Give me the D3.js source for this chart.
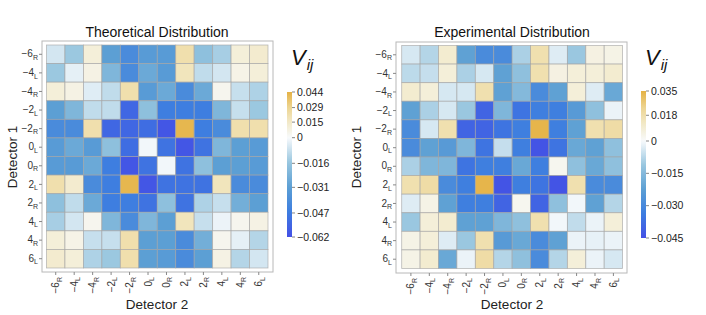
<!DOCTYPE html>
<html><head><meta charset="utf-8">
<script src="https://cdn.jsdelivr.net/npm/d3@7"></script>
<style>body{margin:0;background:#fff}svg{display:block}text{font-family:"Liberation Sans",Arial,sans-serif}</style>
</head><body><svg id="c" width="706" height="315"></svg>
<script>
// ---------- data ----------
const labels = ["−6R","−4L","−4R","−2L","−2R","0L","0R","2L","2R","4L","4R","6L"];

const theoretical = [
 [-0.006,-0.015, 0.010,-0.031,-0.040,-0.033,-0.033, 0.022,-0.018,-0.013, 0.010, 0.013],
 [-0.015,-0.003, 0.007,-0.022,-0.040,-0.027,-0.033, 0.018,-0.009,-0.006, 0.006, 0.010],
 [ 0.010, 0.007,-0.004,-0.009, 0.022,-0.033,-0.027,-0.040,-0.027, 0.004,-0.008,-0.012],
 [-0.031,-0.022,-0.009,-0.009,-0.054,-0.018,-0.046,-0.046,-0.046,-0.022,-0.008,-0.015],
 [-0.040,-0.040, 0.022,-0.054,-0.054,-0.052,-0.060, 0.042,-0.046,-0.040, 0.022, 0.022],
 [-0.033,-0.027,-0.033,-0.018,-0.052,-0.001,-0.050,-0.060,-0.050,-0.022,-0.031,-0.033],
 [-0.033,-0.033,-0.027,-0.046,-0.060,-0.050,-0.001,-0.050,-0.018,-0.031,-0.031,-0.033],
 [ 0.022, 0.013,-0.040,-0.046, 0.042,-0.060,-0.050,-0.050,-0.050, 0.018,-0.040,-0.040],
 [-0.018,-0.009,-0.027,-0.046,-0.046,-0.050,-0.018,-0.050,-0.012,-0.008,-0.025,-0.031],
 [-0.013,-0.006, 0.004,-0.022,-0.040,-0.022,-0.031, 0.018,-0.008,-0.002, 0.004, 0.007],
 [ 0.010, 0.006,-0.008,-0.008, 0.022,-0.031,-0.031,-0.040,-0.025, 0.004,-0.003,-0.011],
 [ 0.013, 0.010,-0.012,-0.015, 0.022,-0.031,-0.033,-0.040,-0.031, 0.007,-0.011,-0.006]
];

const experimental = [
 [-0.004,-0.008, 0.010,-0.022,-0.029,-0.029,-0.009, 0.017,-0.003,-0.011, 0.006, 0.005],
 [-0.007,-0.006, 0.008,-0.009,-0.004,-0.022,-0.013, 0.017, 0.006, 0.008, 0.008, 0.010],
 [ 0.010, 0.008,-0.004,-0.004, 0.017,-0.022,-0.015,-0.029,-0.022, 0.008,-0.003,-0.020],
 [-0.022,-0.009,-0.004,-0.011,-0.040,-0.016,-0.036,-0.033,-0.033,-0.024,-0.013,-0.0015],
 [-0.029,-0.004, 0.017,-0.040,-0.040,-0.036,-0.033, 0.034,-0.033,-0.022, 0.017, 0.019],
 [-0.029,-0.022,-0.024,-0.016,-0.036,-0.006,-0.033,-0.044,-0.036,-0.020,-0.022,-0.013],
 [-0.009,-0.016,-0.016,-0.036,-0.033,-0.033,-0.020,-0.033, 0.003,-0.013,-0.020,-0.013],
 [ 0.017, 0.019,-0.029,-0.033, 0.034,-0.044,-0.033,-0.036,-0.044, 0.017,-0.029,-0.029],
 [-0.003, 0.005,-0.022,-0.033,-0.033,-0.040, 0.003,-0.040,-0.013,-0.0007,-0.022,-0.008],
 [-0.011, 0.008, 0.010,-0.022,-0.022,-0.016,-0.013, 0.017,-0.0007,-0.0065,-0.0015, 0.008],
 [ 0.005, 0.008,-0.003,-0.011, 0.017,-0.024,-0.020,-0.029,-0.022,-0.0015,-0.002,-0.0015],
 [ 0.005, 0.010,-0.020,-0.0015, 0.019,-0.008,-0.013,-0.029,-0.008, 0.008,-0.0015,-0.004]
];

const theoTicks = [0.044, 0.029, 0.015, 0, -0.016, -0.031, -0.047, -0.062];
const theoTickLabels = ["0.044","0.029","0.015","0","−0.016","−0.031","−0.047","−0.062"];
const exptTicks = [0.035, 0.018, 0, -0.015, -0.030, -0.045];
const exptTickLabels = ["0.035","0.018","0","−0.015","−0.030","−0.045"];

const titles = ["Theoretical Distribution", "Experimental Distribution"];
const xTitle = "Detector 2", yTitle = "Detector 1";

// ---------- drawing ----------
const svg = d3.select("#c");
svg.append("rect").attr("width",706).attr("height",315).attr("fill","#fff");

const palette = d3.scaleLinear()
  .domain([-1,-0.75,-0.5,-0.25,0,0.34,0.66,1])
  .range(["#4450e6","#3d7de0","#5c9fd4","#98c6df","#f8fafc","#f2e9c8","#edd592","#e5b245"])
  .interpolate(d3.interpolateRgb).clamp(true);

function colorFn(v, mn, mx){ return palette(v < 0 ? v / mn : v / mx); }

function subLabel(sel){
  sel.each(function(d){
    const t = d3.select(this); t.text(null);
    t.append("tspan").text(d.slice(0,-1));
    t.append("tspan").attr("font-size","7px").attr("dy","2.5").text(d.slice(-1));
  });
}

const panels = [
  {data: theoretical, ticks: theoTicks, tickLabels: theoTickLabels, mn: 0.062, mx: 0.044,
   frame:[42,41,273,272], cells:[46.5,45,268,268], bar:{x:287, top:92, zero:137.7, bottom:237},
   vx: 291, title: titles[0], cx: 157, ylabX: 13},
  {data: experimental, ticks: exptTicks, tickLabels: exptTickLabels, mn: 0.045, mx: 0.035,
   frame:[396,42,627,273], cells:[401.7,45.5,622.6,268.5], bar:{x:641, top:91, zero:141, bottom:238},
   vx: 645, title: titles[1], cx: 512, ylabX: 357}
];

panels.forEach((p, pi) => {
  const g = svg.append("g");
  const x = d3.scaleBand().domain(labels).range([p.cells[0], p.cells[2]]);
  const y = d3.scaleBand().domain(labels).range([p.cells[1], p.cells[3]]);
  const cells = [];
  p.data.forEach((row, i) => row.forEach((v, j) => cells.push({r: labels[i], c: labels[j], v})));
  g.selectAll("rect.cell").data(cells).join("rect").attr("class","cell")
    .attr("x", d => x(d.c)).attr("y", d => y(d.r))
    .attr("width", x.bandwidth()).attr("height", y.bandwidth())
    .attr("fill", d => colorFn(d.v, p.mn, p.mx))
    .attr("stroke", "#a3a3a3").attr("stroke-width", 0.8).attr("stroke-opacity", 0.75);

  // frame
  g.append("rect").attr("x", p.frame[0]).attr("y", p.frame[1])
    .attr("width", p.frame[2]-p.frame[0]).attr("height", p.frame[3]-p.frame[1])
    .attr("fill","none").attr("stroke","#b8b8b8").attr("stroke-width",1);

  // axes
  const ya = g.append("g").attr("transform", `translate(${p.frame[0]},0)`)
    .call(d3.axisLeft(y).tickSize(3).tickSizeOuter(0));
  const xa = g.append("g").attr("transform", `translate(0,${p.frame[3]})`)
    .call(d3.axisBottom(x).tickSize(3).tickSizeOuter(0));
  [ya, xa].forEach(a => { a.select(".domain").remove(); a.selectAll("line").attr("stroke","#888"); });
  ya.selectAll("text").attr("font-size","10px").attr("fill","#333").attr("x",-4).call(subLabel);
  xa.selectAll("text").attr("font-size","10px").attr("fill","#333")
    .attr("transform","rotate(-90)").attr("text-anchor","end")
    .attr("x",-5).attr("y",0).attr("dy","0.35em").call(subLabel);

  // titles
  g.append("text").attr("x", p.cx).attr("y", 37).attr("text-anchor","middle")
    .attr("font-size","14px").attr("fill","#111").text(p.title);
  g.append("text").attr("x", p.cx).attr("y", 309).attr("text-anchor","middle")
    .attr("font-size","13.5px").attr("fill","#222").text(xTitle);
  g.append("text").attr("transform", `translate(${p.ylabX + 4},157) rotate(-90)`)
    .attr("text-anchor","middle").attr("font-size","13.5px").attr("fill","#222").text(yTitle);

  // colorbar
  const b = p.bar;
  const bs = d3.scaleLinear().domain([-p.mn, 0, p.mx]).range([b.bottom, b.zero, b.top]);
  const gid = "grad" + pi;
  const grad = svg.append("defs").append("linearGradient").attr("id", gid)
    .attr("x1",0).attr("y1",0).attr("x2",0).attr("y2",1);
  const N = 60;
  d3.range(N+1).forEach(k => {
    const yy = b.top + (b.bottom - b.top) * k / N;
    grad.append("stop").attr("offset", k / N).attr("stop-color", colorFn(bs.invert(yy), p.mn, p.mx));
  });
  g.append("rect").attr("x", b.x).attr("y", b.top).attr("width", 5).attr("height", b.bottom - b.top)
    .attr("fill", `url(#${gid})`);
  p.ticks.forEach((t, k) => {
    g.append("line").attr("x1", b.x + 5).attr("x2", b.x + 8).attr("y1", bs(t)).attr("y2", bs(t))
      .attr("stroke","#666").attr("stroke-width",0.8);
    g.append("text").attr("x", b.x + 10).attr("y", bs(t)).attr("dy","0.35em")
      .attr("font-size","10.5px").attr("fill","#222").text(p.tickLabels[k]);
  });

  // V_ij label
  const vt = g.append("text").attr("x", p.vx).attr("y", 65)
    .attr("font-family","'Liberation Serif','DejaVu Serif',serif").attr("font-style","italic")
    .attr("font-size","22px").attr("fill","#111");
  vt.append("tspan").text("V");
  vt.append("tspan").attr("font-size","15px").attr("dy","5").attr("dx","1").text("ij");
});
</script></body></html>
